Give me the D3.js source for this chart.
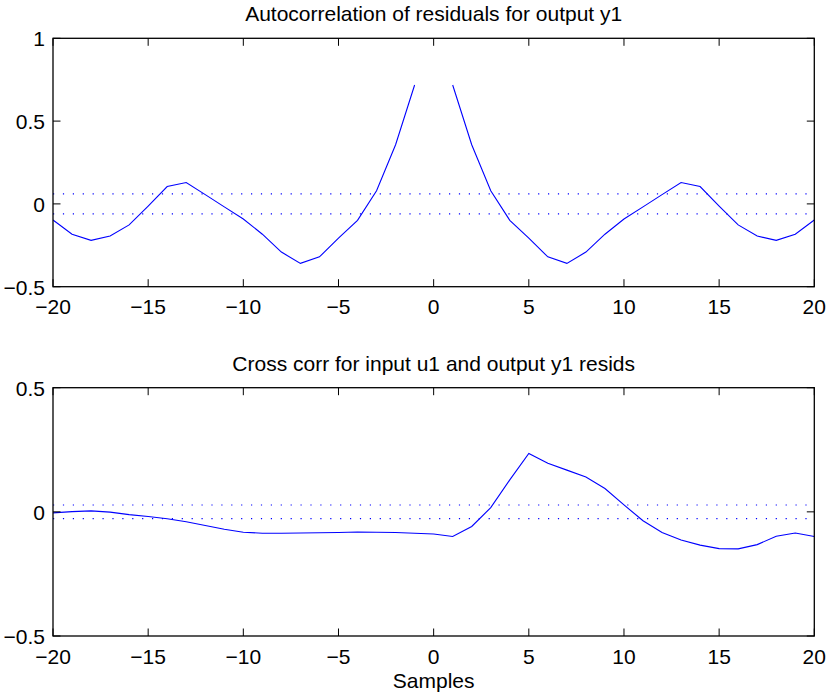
<!DOCTYPE html>
<html>
<head>
<meta charset="utf-8">
<script src="https://cdn.jsdelivr.net/npm/d3@7"></script>
<style>
  body { margin: 0; background: #fff; }
  text { font-family: "Liberation Sans", Arial, sans-serif; fill: #000; }
</style>
</head>
<body>
<svg id="chart" width="828" height="694"></svg>
<script>
const lags = d3.range(-20, 21);

// autocorrelation of residuals, lag 0 left out (null)
const acfValues = [
  -0.097, -0.183, -0.220, -0.194, -0.127, -0.013, 0.105, 0.129, 0.056, -0.018,
  -0.091, -0.183, -0.291, -0.359, -0.320, -0.207, -0.099, 0.079, 0.357, 0.718,
  null,
  0.718, 0.357, 0.079, -0.099, -0.207, -0.320, -0.359, -0.291, -0.183, -0.091,
  -0.018, 0.056, 0.129, 0.105, -0.013, -0.127, -0.194, -0.220, -0.183, -0.097
];

const ccfValues = [
  -0.004, 0.001, 0.004, -0.001, -0.011, -0.019, -0.028, -0.040, -0.055, -0.070,
  -0.082, -0.086, -0.086, -0.085, -0.084, -0.083, -0.081, -0.082, -0.083, -0.086,
  -0.089,
  -0.099, -0.059, 0.017, 0.129, 0.235, 0.196, 0.168, 0.140, 0.094, 0.028,
  -0.036, -0.083, -0.113, -0.134, -0.148, -0.149, -0.132, -0.098, -0.085, -0.099
];

const acfBound = 0.06;
const ccfBound = 0.0275;

const xTicks = [-20, -15, -10, -5, 0, 5, 10, 15, 20];
const acfTicks = [-0.5, 0, 0.5, 1];
const ccfTicks = [-0.5, 0, 0.5];

const svg = d3.select('#chart');
const fmt = v => String(v).replace('-', '\u2212');

const drawPanel = (cfg) => {
  const x = d3.scaleLinear().domain([-20, 20]).range([53, 814.3]);
  const y = d3.scaleLinear().domain(cfg.domain).range([cfg.bottom, cfg.top]);
  const g = svg.append('g');
  const tick = 7.5;

  g.append('clipPath').attr('id', cfg.id)
    .append('rect')
    .attr('x', x.range()[0]).attr('y', cfg.top)
    .attr('width', x.range()[1] - x.range()[0]).attr('height', cfg.bottom - cfg.top);

  // confidence bounds
  g.selectAll('line.bound')
    .data([cfg.bound, -cfg.bound])
    .enter().append('line')
    .attr('class', 'bound')
    .attr('x1', x(-20)).attr('x2', x(20))
    .attr('y1', d => y(d)).attr('y2', d => y(d))
    .attr('stroke', '#0000ff')
    .attr('stroke-width', 1.2)
    .attr('stroke-dasharray', '1.2,8.7');

  const line = d3.line()
    .defined(d => d[1] !== null)
    .x(d => x(d[0]))
    .y(d => y(d[1]));

  g.append('path')
    .datum(lags.map((l, i) => [l, cfg.values[i]]))
    .attr('clip-path', `url(#${cfg.id})`)
    .attr('fill', 'none')
    .attr('stroke', '#0000ff')
    .attr('stroke-width', 1.1)
    .attr('d', line);

  // box
  g.append('rect')
    .attr('x', x.range()[0]).attr('y', cfg.top)
    .attr('width', x.range()[1] - x.range()[0]).attr('height', cfg.bottom - cfg.top)
    .attr('fill', 'none').attr('stroke', '#000').attr('stroke-width', 1.3);

  // x ticks top and bottom
  xTicks.forEach(t => {
    g.append('line').attr('x1', x(t)).attr('x2', x(t))
      .attr('y1', cfg.bottom).attr('y2', cfg.bottom - tick)
      .attr('stroke', '#000');
    g.append('line').attr('x1', x(t)).attr('x2', x(t))
      .attr('y1', cfg.top).attr('y2', cfg.top + tick)
      .attr('stroke', '#000');
    g.append('text')
      .attr('x', x(t)).attr('y', cfg.bottom + 27.5)
      .attr('text-anchor', 'middle')
      .style('font-size', '21px')
      .text(fmt(t));
  });

  // y ticks left and right
  cfg.ticks.forEach(t => {
    g.append('line').attr('x1', x(-20)).attr('x2', x(-20) + tick)
      .attr('y1', y(t)).attr('y2', y(t)).attr('stroke', '#000');
    g.append('line').attr('x1', x(20)).attr('x2', x(20) - tick)
      .attr('y1', y(t)).attr('y2', y(t)).attr('stroke', '#000');
    g.append('text')
      .attr('x', 45).attr('y', y(t) + 8)
      .attr('text-anchor', 'end')
      .style('font-size', '21px')
      .text(fmt(t));
  });

  g.append('text')
    .attr('x', (x(-20) + x(20)) / 2).attr('y', cfg.top - 17)
    .attr('text-anchor', 'middle')
    .style('font-size', '21px')
    .text(cfg.title);
};

drawPanel({
  id: 'clipTop', values: acfValues, bound: acfBound, ticks: acfTicks,
  domain: [-0.5, 1], top: 38.3, bottom: 286.7,
  title: 'Autocorrelation of residuals for output y1'
});

drawPanel({
  id: 'clipBottom', values: ccfValues, bound: ccfBound, ticks: ccfTicks,
  domain: [-0.5, 0.5], top: 387.7, bottom: 636,
  title: 'Cross corr for input u1 and output y1 resids'
});

svg.append('text')
  .attr('x', (53 + 814.3) / 2).attr('y', 688)
  .attr('text-anchor', 'middle')
  .style('font-size', '21px')
  .text('Samples');
</script>
</body>
</html>
